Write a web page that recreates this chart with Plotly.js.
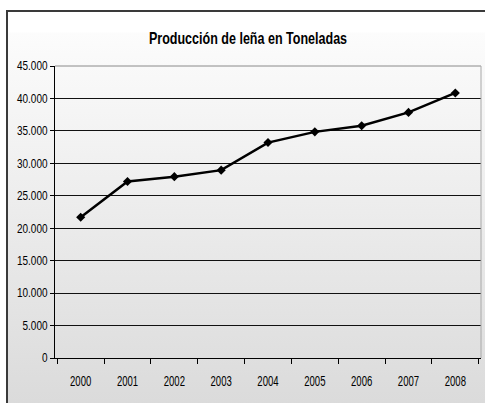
<!DOCTYPE html>
<html>
<head>
<meta charset="utf-8">
<script src="https://cdn.plot.ly/plotly-3.0.1.min.js"></script>
<style>
  html, body { margin: 0; padding: 0; background: #ffffff; }
  #wrap { position: relative; width: 485px; height: 403px; overflow: hidden; background: #ffffff; }
  #frame { position: absolute; left: 6px; top: 10px; width: 485px; height: 400px;
           border-left: 2px solid #3a3a3a; border-top: 2px solid #3a3a3a;
           background: linear-gradient(to bottom, #ffffff 0px, #ffffff 20px, #fcfcfc 21px, #dadada 100%); }
  #chart { position: absolute; left: 0; top: 0; width: 485px; height: 403px; }
</style>
</head>
<body>
<div id="wrap">
  <div id="frame"></div>
  <div id="chart"></div>
</div>
<script>
const years = ['2000','2001','2002','2003','2004','2005','2006','2007','2008'];
const produccion = [21700, 27200, 27950, 28950, 33200, 34850, 35800, 37850, 40850];
const yTicks = [0, 5000, 10000, 15000, 20000, 25000, 30000, 35000, 40000, 45000];
const chartTitle = 'Producción de leña en Toneladas';

const fontFam = '"Liberation Sans", Arial, sans-serif';

const trace = {
  x: years,
  y: produccion,
  type: 'scatter',
  mode: 'lines+markers',
  line: { color: '#000000', width: 2.5 },
  marker: { symbol: 'diamond', size: 7, color: '#000000' },
  hoverinfo: 'x+y'
};

const layout = {
  width: 485,
  height: 403,
  margin: { l: 55, r: 4, t: 66, b: 45 },
  paper_bgcolor: 'rgba(0,0,0,0)',
  plot_bgcolor: 'rgba(0,0,0,0)',
  separators: ',.',
  showlegend: false,
  font: { family: fontFam, size: 12.5, color: '#000000' },
  title: {
    text: '<b>' + chartTitle + '</b>',
    font: { family: fontFam, size: 16.5, color: '#000000' },
    xref: 'container', yref: 'container',
    x: 248 / 485, xanchor: 'center',
    y: 1 - 38.5 / 403, yanchor: 'middle'
  },
  xaxis: {
    type: 'category',
    showgrid: false,
    showline: true,
    linecolor: '#000000',
    linewidth: 1,
    ticks: 'outside',
    tickson: 'boundaries',
    ticklen: 5,
    tickcolor: '#000000',
    ticklabelstandoff: 10,
    tickfont: { family: fontFam, size: 14.5, color: '#000000' },
    zeroline: false,
    fixedrange: true
  },
  yaxis: {
    range: [0, 45000],
    tickvals: yTicks,
    tickformat: ',d',
    showgrid: true,
    gridcolor: '#111111',
    gridwidth: 1,
    showline: true,
    linecolor: '#000000',
    linewidth: 1,
    ticks: 'outside',
    ticklen: 4,
    tickcolor: '#000000',
    zeroline: false,
    tickfont: { family: fontFam, size: 12.5, color: '#000000' },
    fixedrange: true
  },
  shapes: [
    { type: 'line', xref: 'paper', yref: 'paper', x0: 0, x1: 1, y0: 1, y1: 1,
      line: { color: '#8a8a8a', width: 1 }, layer: 'above' },
    { type: 'line', xref: 'paper', yref: 'paper', x0: 1, x1: 1, y0: 0, y1: 1,
      line: { color: '#a8a8a8', width: 1 }, layer: 'above' }
  ]
};

// Narrow the text horizontally (reference uses a condensed sans face)
function condense(sel, sx) {
  document.querySelectorAll(sel).forEach(function (t) {
    const x = parseFloat(t.getAttribute('x') || '0');
    const y = parseFloat(t.getAttribute('y') || '0');
    const prev = t.getAttribute('transform') || '';
    t.setAttribute('transform', prev + ' translate(' + x + ',' + y + ') scale(' + sx + ',1) translate(' + (-x) + ',' + (-y) + ')');
  });
}

Plotly.newPlot('chart', [trace], layout, { displayModeBar: false }).then(function () {
  condense('#chart .xtick text', 0.66);
  condense('#chart .ytick text', 0.8);
  condense('#chart .gtitle', 0.76);
});
</script>
</body>
</html>
